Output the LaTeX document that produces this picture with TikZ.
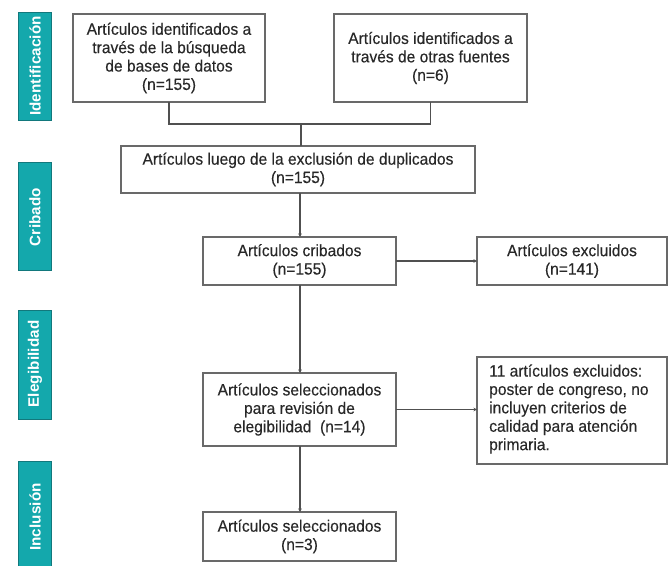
\documentclass[tikz,border=0pt]{standalone}
\usepackage{fontspec}
\setmainfont{Liberation Sans}[FakeStretch=0.95,FakeBold=0.25]
\newfontfamily\stagefont{Liberation Sans}[LetterSpace=1]
\usetikzlibrary{arrows.meta}
\definecolor{tealbar}{RGB}{20,168,172}
\definecolor{tealedge}{RGB}{18,120,124}
\definecolor{boxline}{RGB}{105,105,105}
\definecolor{txt}{RGB}{40,40,40}
\definecolor{conn}{RGB}{80,80,80}
\tikzset{
  flowfont/.style={text=txt, font=\fontsize{16.4}{18.4}\selectfont},
  flowbox/.style={draw=boxline, line width=1.2pt, fill=white, inner sep=0pt, outer sep=0pt,
    align=center, flowfont},
  stagebar/.style={fill=tealbar, draw=tealedge, line width=0.8pt, inner sep=0pt, outer sep=0pt,
    minimum width=33pt},
  stagetext/.style={text=white, rotate=90, font=\stagefont\bfseries\fontsize{15.2}{16}\selectfont, inner sep=0pt},
  link/.style={draw=conn, line width=1.1pt},
  arrowlink/.style={link, -{Stealth[length=3.5pt,width=3.5pt]}}
}
\begin{document}
\begin{tikzpicture}[x=1pt,y=-1pt]
\useasboundingbox (0,0) rectangle (668,565);
% stage bars
\node[stagebar, minimum height=108pt] (bid) at (34.5,66) {};
\node[stagetext] (tid) at (35,66) {Identificación};
\node[stagebar, minimum height=108pt] (bcr) at (35,216) {};
\node[stagetext] (tcr) at (35,217) {Cribado};
\node[stagebar, minimum height=109pt] (bel) at (35,364.5) {};
\node[stagetext] (tel) at (35,364) {Elegibilidad};
\node[stagebar, minimum height=110pt] (bin) at (35,516) {};
\node[stagetext] (tin) at (35,517) {Inclusión};
% boxes
\node[flowbox, minimum width=192pt, minimum height=88pt] (a) at (169,58)
  {Artículos identificados a\\través de la búsqueda\\de bases de datos\\(n=155)};
\node[flowbox, minimum width=193pt, minimum height=88pt] (b) at (430.5,58)
  {Artículos identificados a\\través de otras fuentes\\(n=6)};
\node[flowbox, minimum width=354pt, minimum height=47pt] (c) at (298,169.5)
  {Artículos luego de la exclusión de duplicados\\(n=155)};
\node[flowbox, minimum width=193pt, minimum height=48pt] (d) at (299.5,261)
  {Artículos cribados\\(n=155)};
\node[flowbox, minimum width=190pt, minimum height=48pt] (e) at (572,261)
  {Artículos excluidos\\(n=141)};
\node[flowbox, minimum width=193pt, minimum height=73pt] (f) at (299.5,409.5)
  {Artículos seleccionados\\para revisión de\\elegibilidad\ \ (n=14)};
\node[flowbox, minimum width=190pt, minimum height=107pt] (h) at (572,410.5) {};
\node[flowfont, anchor=west, align=left, inner sep=0pt] (ht) at (489,409)
  {11 artículos excluidos:\\poster de congreso, no\\incluyen criterios de\\calidad para atención\\primaria.};
\node[flowbox, minimum width=193pt, minimum height=49pt] (g) at (299.5,536.5)
  {Artículos seleccionados\\(n=3)};
% connectors
\coordinate (m) at (301,124);
\draw[link] (a.south) |- (m) -| (b.south);
\draw[link] (m) -- (m |- c.north);
\draw[arrowlink] (c.south) ++(2,0) coordinate (cs) -- (cs |- d.north);
\draw[arrowlink] (d.east) -- (e.west);
\draw[arrowlink] (d.south) ++(0.5,0) coordinate (ds) -- (ds |- f.north);
\draw[arrowlink] (f.east) -- (f.east -| h.west);
\draw[arrowlink] (f.south) ++(0.5,0) coordinate (fs) -- (fs |- g.north);
\end{tikzpicture}
\end{document}
